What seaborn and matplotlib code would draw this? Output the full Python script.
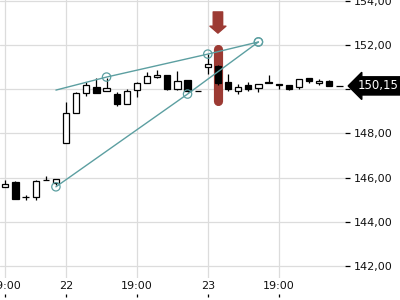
import matplotlib
matplotlib.use("Agg")
import matplotlib.pyplot as plt
import matplotlib.transforms as mtransforms
import numpy as np
import pandas as pd
import seaborn as sns

# ---------------- data ----------------
opens  = [145.58, 145.82, 145.12, 145.14, 145.88, 145.77, 147.58, 148.94, 149.85, 150.09,
          149.91, 149.80, 149.35, 149.97, 150.27, 150.56, 150.64, 150.01, 150.42, 149.91,
          151.00, 151.05, 150.33, 149.92, 150.17, 150.06, 150.31, 150.22, 150.21, 150.12,
          150.49, 150.27, 150.36, 150.15]
highs  = [145.88, 145.85, 145.21, 145.91, 146.06, 145.95, 149.44, 149.86, 150.32, 150.49,
          150.50, 149.86, 150.01, 150.33, 150.80, 150.86, 150.64, 150.83, 150.42, 149.91,
          151.58, 151.10, 150.67, 150.24, 150.33, 150.23, 150.64, 150.22, 150.21, 150.45,
          150.49, 150.45, 150.42, 150.15]
lows   = [145.58, 145.05, 144.98, 145.00, 145.88, 145.68, 147.58, 148.94, 149.71, 149.85,
          149.91, 149.26, 149.35, 149.65, 150.27, 150.49, 149.97, 149.97, 149.88, 149.90,
          150.67, 150.18, 149.90, 149.80, 149.92, 149.88, 150.28, 149.99, 149.97, 149.99,
          150.30, 150.17, 150.15, 150.15]
closes = [145.71, 145.05, 145.11, 145.83, 145.89, 145.95, 148.90, 149.82, 150.17, 149.85,
          150.06, 149.35, 149.92, 150.26, 150.59, 150.65, 150.01, 150.36, 149.90, 149.90,
          151.12, 150.26, 149.99, 150.11, 150.03, 150.23, 150.28, 150.18, 149.99, 150.45,
          150.36, 150.36, 150.15, 150.15]

tick_idx = [0, 6, 13, 20, 27]
tick_labels = ["19:00", "22", "19:00", "23", "19:00"]
y_ticks = [142, 144, 146, 148, 150, 152, 154]
y_hidden = [150]  # covered by the last-price marker

# drawn trend lines (index, price)
upper_x = [5, 10, 20, 25]
upper_y = [149.96, 150.55, 151.59, 152.14]
upper_anchor = [False, True, True, True]
lower_x = [5, 18, 25]
lower_y = [145.58, 149.78, 152.14]

highlight_idx = 21
highlight_range = [149.48, 151.80]
arrow_range = [153.50, 152.54]
last_price = 150.15

# ---------------- style ----------------
sns.set_theme(style="white")
plt.rcParams["font.family"] = ["DejaVu Sans"]

TEAL = "#5c9fa1"
RED = "#9c3a33"
GRID = "#dcdcdc"

fig = plt.figure(figsize=(4, 3), dpi=100)
ax = fig.add_axes([0, 22 / 300, 345 / 400, 278 / 300])
ax.set_xlim(-0.523, 33.55)
ax.set_ylim(141.45, 154.04)

for s in ax.spines.values():
    s.set_visible(False)

# grid
ax.set_yticks(y_ticks)
ax.set_xticks(tick_idx)
ax.grid(True, color=GRID, lw=0.9)
ax.set_axisbelow(True)

# highlight bar
ax.plot([highlight_idx, highlight_idx], highlight_range, color=RED, lw=6.6,
        solid_capstyle="round", zorder=1.5)
# arrow
ax.annotate("", xy=(highlight_idx, arrow_range[1]), xytext=(highlight_idx, arrow_range[0]),
            arrowprops=dict(arrowstyle="simple,head_width=1.15,head_length=0.5,tail_width=0.68",
                            color=RED, shrinkA=0, shrinkB=0, mutation_scale=10),
            annotation_clip=False, zorder=6)

# candles
df = pd.DataFrame({"open": opens, "high": highs, "low": lows, "close": closes})
df["idx"] = np.arange(len(df))
ax.vlines(df["idx"], df["low"], df["high"], color="black", lw=0.9, zorder=3)
bw = 0.62
up = df["close"] >= df["open"]
bottoms = np.minimum(df["open"], df["close"])
heights = np.abs(df["close"] - df["open"])
ax.bar(df["idx"][up], heights[up], bottom=bottoms[up], width=bw,
       facecolor="white", edgecolor="black", lw=0.9, zorder=4)
ax.bar(df["idx"][~up], heights[~up], bottom=bottoms[~up], width=bw,
       facecolor="black", edgecolor="black", lw=0.9, zorder=4)

# trend lines
tl_up = pd.DataFrame({"x": upper_x, "y": upper_y})
tl_lo = pd.DataFrame({"x": lower_x, "y": lower_y})
sns.lineplot(data=tl_up, x="x", y="y", ax=ax, color=TEAL, lw=1.0, sort=False, zorder=5)
sns.lineplot(data=tl_lo, x="x", y="y", ax=ax, color=TEAL, lw=1.0, sort=False, zorder=5)
anchors_x = [x for x, a in zip(upper_x, upper_anchor) if a] + lower_x
anchors_y = [y for y, a in zip(upper_y, upper_anchor) if a] + lower_y
ax.scatter(anchors_x, anchors_y, s=36, facecolors="none", edgecolors=TEAL,
           linewidths=0.9, zorder=6)

# axes ticks
ax.yaxis.tick_right()
ax.set_yticklabels(["" if v in y_hidden else f"{v:.2f}".replace(".", ",") for v in y_ticks])
ax.tick_params(axis="y", right=True, length=3.6, width=0.9, color="black", pad=3,
               labelsize=8, labelcolor="#111111")
ax.set_xticklabels(tick_labels)
ax.tick_params(axis="x", bottom=False, length=0, pad=2.5, labelsize=8, labelcolor="#111111")
ax.set_xlabel("")
ax.set_ylabel("")

sec = ax.secondary_xaxis(-0.0576)
sec.set_xticks(tick_idx)
sec.set_xticklabels([])
sec.tick_params(axis="x", length=2.3, width=0.9, color="black")
sec.spines["bottom"].set_visible(False)

# last price label
trans = mtransforms.blended_transform_factory(ax.transAxes, ax.transData)
ax.text(358 / 345, last_price, f"{last_price:.2f}".replace(".", ","), transform=trans,
        ha="left", va="center", color="white", fontsize=8.5, zorder=10, clip_on=False,
        bbox=dict(boxstyle="larrow,pad=0.22", fc="black", ec="black"))

fig.savefig("out.png", dpi=100)
